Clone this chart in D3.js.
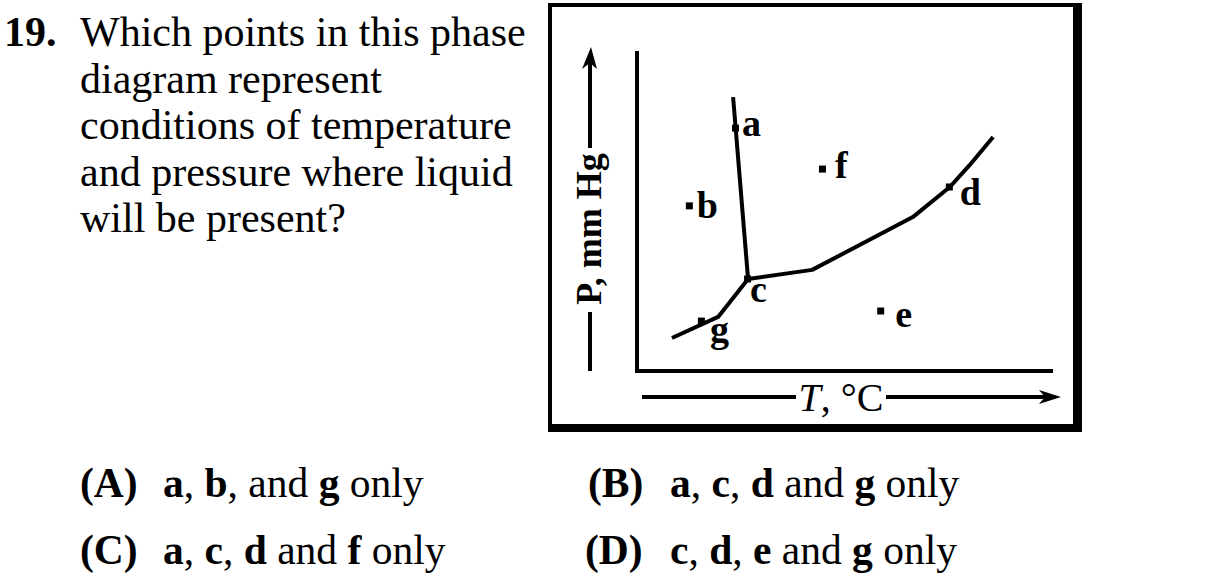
<!DOCTYPE html>
<html><head><meta charset="utf-8">
<script src="https://cdn.jsdelivr.net/npm/d3@7"></script>
<style>
body{margin:0;background:#fff}
text{font-family:"Liberation Serif","Times New Roman",serif;fill:#000}
</style>
</head><body>
<svg id="c" width="1207" height="588"></svg>
<script>
// ---------------- data ----------------
const questionNumber = "19.";
const questionLines = [
  "Which points in this phase",
  "diagram represent",
  "conditions of temperature",
  "and pressure where liquid",
  "will be present?"
];
const pointNames = ["a", "b", "c", "d", "e", "f", "g"];
const pointT = [23.8, 12.7, 26.7, 75.2, 58.7, 44.7, 15.6];
const pointP = [75.9, 51.6, 28.75, 57.5, 18.75, 63.1, 15.6];
const fusionT = [26.7, 23.1];
const fusionP = [28.75, 85.6];
const sublimationT = [8.4, 19.5, 26.7];
const sublimationP = [10.3, 16.9, 28.75];
const vaporT = [26.7, 42.1, 66.3, 75.2, 80.0, 85.6];
const vaporP = [28.75, 31.6, 48.1, 57.5, 64.4, 73.1];
const xAxisLabel = ["T", ", °C"];
const yAxisLabel = "P, mm Hg";
const answerKeys = ["(A)", "(B)", "(C)", "(D)"];
// each answer: list of [text, bold]
const answerParts = [
  [["a", 1], [", ", 0], ["b", 1], [", and ", 0], ["g", 1], [" only", 0]],
  [["a", 1], [", ", 0], ["c", 1], [", ", 0], ["d", 1], [" and ", 0], ["g", 1], [" only", 0]],
  [["a", 1], [", ", 0], ["c", 1], [", ", 0], ["d", 1], [" and ", 0], ["f", 1], [" only", 0]],
  [["c", 1], [", ", 0], ["d", 1], [", ", 0], ["e", 1], [" and ", 0], ["g", 1], [" only", 0]]
];

// ---------------- layout / style ----------------
const svg = d3.select("#c");
svg.append("rect").attr("width", 1207).attr("height", 588).attr("fill", "#fff");

const x = d3.scaleLinear().domain([0, 100]).range([637, 1053]);
const y = d3.scaleLinear().domain([0, 100]).range([371, 51]);

const labelOffsets = {a:[6,8], b:[7,12], c:[2,23], d:[10,18], e:[14,16], f:[12,9], g:[8,21]};

// question text
svg.append("text").attr("x", 4).attr("y", 46)
  .attr("font-size", 42).attr("font-weight", "bold").text(questionNumber);
svg.selectAll("text.q").data(questionLines).join("text").attr("class", "q")
  .attr("x", 80).attr("y", (d, i) => 46 + i * 46.5)
  .attr("font-size", 42).text(d => d);

// frame
svg.append("rect").attr("x", 550).attr("y", 5).attr("width", 527).attr("height", 423)
  .attr("fill", "none").attr("stroke", "#000").attr("stroke-width", 4);
svg.append("line").attr("x1", 1077.5).attr("x2", 1077.5).attr("y1", 3).attr("y2", 432)
  .attr("stroke", "#000").attr("stroke-width", 9);
svg.append("line").attr("x1", 548).attr("x2", 1082).attr("y1", 428).attr("y2", 428)
  .attr("stroke", "#000").attr("stroke-width", 8);

// inner axes
svg.append("path")
  .attr("d", `M${x(0)},${y(100)}V${y(0)}H${x(100)}`)
  .attr("fill", "none").attr("stroke", "#000").attr("stroke-width", 4);

// x-axis arrow + label
const ax = 397;
svg.append("line").attr("x1", 642).attr("x2", 796).attr("y1", ax).attr("y2", ax)
  .attr("stroke", "#000").attr("stroke-width", 4);
svg.append("line").attr("x1", 886).attr("x2", 1046).attr("y1", ax).attr("y2", ax)
  .attr("stroke", "#000").attr("stroke-width", 4);
svg.append("path")
  .attr("d", `M1061,${ax} L1039,${ax - 7} L1045,${ax} L1039,${ax + 7} Z`).attr("fill", "#000");
const xt = svg.append("text").attr("x", 841).attr("y", 411).attr("text-anchor", "middle")
  .attr("font-size", 40);
xt.append("tspan").attr("font-style", "italic").text(xAxisLabel[0]);
xt.append("tspan").text(xAxisLabel[1]);

// y-axis arrow + label
const ayx = 590;
svg.append("line").attr("x1", ayx).attr("x2", ayx).attr("y1", 371).attr("y2", 312)
  .attr("stroke", "#000").attr("stroke-width", 4);
svg.append("line").attr("x1", ayx).attr("x2", ayx).attr("y1", 148).attr("y2", 62)
  .attr("stroke", "#000").attr("stroke-width", 4);
svg.append("path")
  .attr("d", `M${ayx + 1},47 L${ayx + 7},69 L${ayx},63 L${ayx - 8},69 Z`).attr("fill", "#000");
svg.append("text").attr("transform", `translate(${ayx + 11},229) rotate(-90)`)
  .attr("text-anchor", "middle").attr("font-size", 36).attr("font-weight", "bold")
  .text(yAxisLabel);

// curves
const line = d3.line().x(d => x(d[0])).y(d => y(d[1]));
[[fusionT, fusionP], [sublimationT, sublimationP], [vaporT, vaporP]].forEach(([ts, ps]) => {
  svg.append("path").attr("d", line(ts.map((t, i) => [t, ps[i]])))
    .attr("fill", "none").attr("stroke", "#000").attr("stroke-width", 4)
    .attr("stroke-linejoin", "round");
});

// points
const pts = pointNames.map((n, i) => ({n, t: pointT[i], p: pointP[i]}));
svg.selectAll("rect.pt").data(pts).join("rect").attr("class", "pt")
  .attr("x", d => x(d.t) - 4).attr("y", d => y(d.p) - 3.5)
  .attr("width", 7).attr("height", 7).attr("fill", "#000");
svg.selectAll("text.pl").data(pts).join("text").attr("class", "pl")
  .attr("x", d => x(d.t) + labelOffsets[d.n][0])
  .attr("y", d => y(d.p) + labelOffsets[d.n][1])
  .attr("font-size", 38).attr("font-weight", "bold").text(d => d.n);

// answers
const keyPos = [[80, 497], [588, 497], [80, 564], [585, 564]];
const restX = [163, 670, 163, 670];
answerKeys.forEach((k, i) => {
  svg.append("text").attr("x", keyPos[i][0]).attr("y", keyPos[i][1])
    .attr("font-size", 41.5).attr("font-weight", "bold").text(k);
  const t = svg.append("text").attr("x", restX[i]).attr("y", keyPos[i][1]).attr("font-size", 41.5)
    .attr("xml:space", "preserve").style("white-space", "pre");
  answerParts[i].forEach(([s, b]) => {
    t.append("tspan").attr("font-weight", b ? "bold" : "normal").text(s);
  });
});
</script>
</body></html>
